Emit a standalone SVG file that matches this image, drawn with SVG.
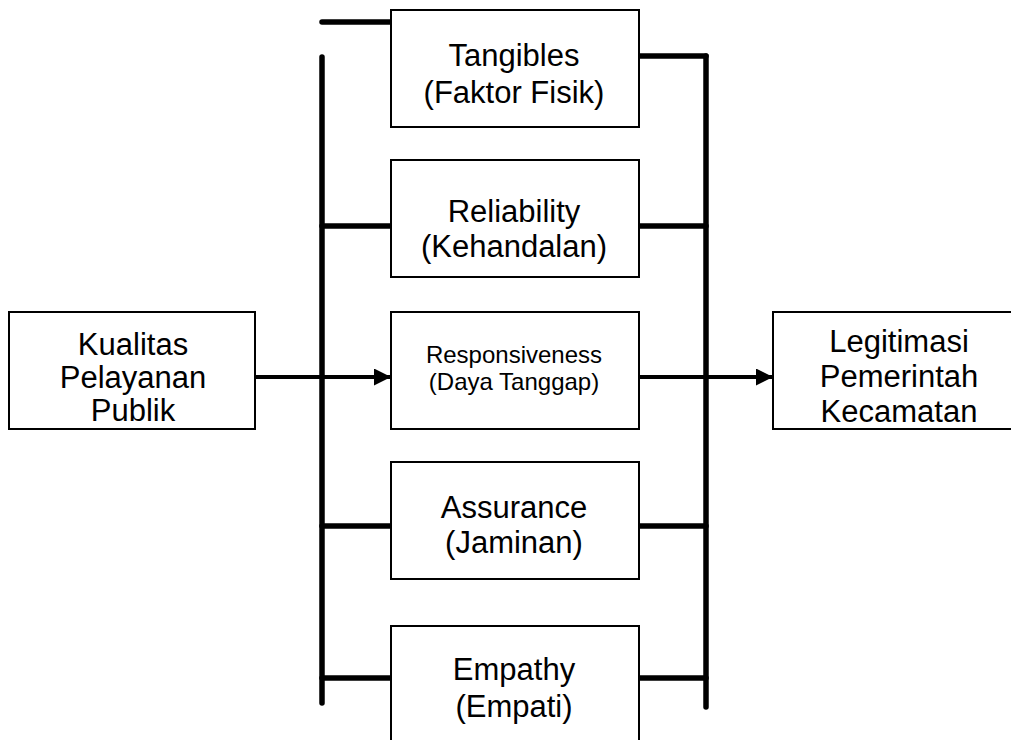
<svg xmlns="http://www.w3.org/2000/svg" width="1011" height="740" viewBox="0 0 1011 740">
<style>
.box{fill:#fff;stroke:#000;stroke-width:2}
.t{font-family:"Liberation Sans",Arial,sans-serif;font-size:31px;fill:#000;text-anchor:middle}
.ts{font-family:"Liberation Sans",Arial,sans-serif;font-size:24px;fill:#000;text-anchor:middle}
.bar{stroke:#000;stroke-width:5.5;stroke-linecap:round;fill:none}
.arr{stroke:#000;stroke-width:4;fill:none}
</style>
<defs>
<marker id="ah" markerWidth="17" markerHeight="17" refX="17" refY="8.5" orient="auto" markerUnits="userSpaceOnUse">
<path d="M0,0 L17,8.5 L0,17 Z" fill="#000"/>
</marker>
</defs>
<g id="connectors">
<line class="bar" x1="322" y1="22" x2="391" y2="22"/>
<line class="bar" x1="322" y1="57" x2="322" y2="703"/>
<line class="bar" x1="639" y1="56" x2="706" y2="56"/>
<line class="bar" x1="706" y1="56" x2="706" y2="707"/>
<line class="bar" x1="322" y1="226" x2="391" y2="226"/>
<line class="bar" x1="639" y1="226" x2="706" y2="226"/>
<line class="bar" x1="322" y1="526" x2="391" y2="526"/>
<line class="bar" x1="639" y1="526" x2="706" y2="526"/>
<line class="bar" x1="322" y1="678" x2="391" y2="678"/>
<line class="bar" x1="639" y1="678" x2="706" y2="678"/>
<line class="arr" x1="255" y1="377" x2="391" y2="377" marker-end="url(#ah)"/>
<line class="arr" x1="639" y1="377" x2="773" y2="377" marker-end="url(#ah)"/>
</g>
<g id="kualitas">
<rect class="box" x="9" y="312" width="246" height="117"/>
<text class="t" x="133" y="355">Kualitas</text>
<text class="t" x="133" y="388">Pelayanan</text>
<text class="t" x="133" y="421">Publik</text>
</g>
<g id="tangibles">
<rect class="box" x="391" y="10" width="248" height="117"/>
<text class="t" x="514" y="66">Tangibles</text>
<text class="t" x="514" y="103">(Faktor Fisik)</text>
</g>
<g id="reliability">
<rect class="box" x="391" y="160" width="248" height="117"/>
<text class="t" x="514" y="222">Reliability</text>
<text class="t" x="514" y="257">(Kehandalan)</text>
</g>
<g id="responsiveness">
<rect class="box" x="391" y="312" width="248" height="117"/>
<text class="ts" x="514" y="363">Responsiveness</text>
<text class="ts" x="514" y="390">(Daya Tanggap)</text>
</g>
<g id="assurance">
<rect class="box" x="391" y="462" width="248" height="117"/>
<text class="t" x="514" y="518">Assurance</text>
<text class="t" x="514" y="553">(Jaminan)</text>
</g>
<g id="empathy">
<rect class="box" x="391" y="626" width="248" height="130"/>
<text class="t" x="514" y="680">Empathy</text>
<text class="t" x="514" y="717">(Empati)</text>
</g>
<g id="legitimasi">
<rect class="box" x="773" y="312" width="252" height="117"/>
<text class="t" x="899" y="352">Legitimasi</text>
<text class="t" x="899" y="387">Pemerintah</text>
<text class="t" x="899" y="422">Kecamatan</text>
</g>
</svg>
